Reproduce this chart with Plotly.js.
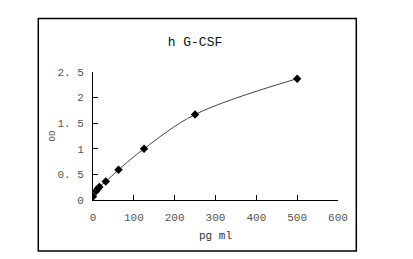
<!DOCTYPE html>
<html><head><meta charset="utf-8">
<script src="https://cdn.plot.ly/plotly-3.0.1.min.js"></script>
<style>html,body{margin:0;padding:0;background:#fff}#chart{width:413px;height:259px}</style>
</head><body><div id="chart"></div>
<script>
var concentration = [0, 7.8, 11.7, 15.6, 31.25, 62.5, 125, 250, 500];
var od = [0.07, 0.175, 0.22, 0.255, 0.36, 0.59, 1.0, 1.67, 2.37];
var xTicks = [0, 100, 200, 300, 400, 500, 600];
var yTickVals = [0, 0.5, 1, 1.5, 2, 2.5];
var yTickText = ['0', '0. 5', '1', '1. 5', '2', '2. 5'];
var titleText = 'h G-CSF';
var xTitle = 'pg ml';
var yTitle = 'OD';

var font = '"Liberation Mono", "DejaVu Sans Mono", monospace';
var trace = {
  x: concentration, y: od, mode: 'lines+markers', type: 'scatter',
  line: {shape: 'spline', smoothing: 1, color: '#444', width: 1},
  marker: {symbol: 'diamond', size: 6.5, color: '#000'},
  hoverinfo: 'none'
};
var layout = {
  width: 413, height: 259,
  margin: {l: 93, r: 75, t: 72, b: 59},
  paper_bgcolor: '#fff', plot_bgcolor: '#fff',
  showlegend: false,
  title: {text: titleText, x: 0.472, xanchor: 'center', y: 0.84, yanchor: 'middle',
          font: {family: font, size: 13, color: '#111'}},
  xaxis: {range: [0, 600], tickvals: xTicks, ticks: 'inside', ticklen: 5, tickcolor: '#000',
          ticklabelstandoff: 7,
          showline: true, linecolor: '#000', linewidth: 1, showgrid: false, zeroline: false,
          tickfont: {family: font, size: 11, color: '#555'},
          title: {text: xTitle, standoff: 8, font: {family: font, size: 11, color: '#333'}}},
  yaxis: {range: [0, 2.5], tickvals: yTickVals, ticktext: yTickText, ticks: 'inside', ticklen: 5, tickcolor: '#000',
          ticklabelstandoff: 6,
          showline: true, linecolor: '#000', linewidth: 1, showgrid: false, zeroline: false,
          tickfont: {family: font, size: 11, color: '#555'},
          title: {text: yTitle, standoff: 0, font: {family: font, size: 9, color: '#555'}}},
  shapes: [{type: 'rect', xref: 'paper', yref: 'paper', x0: -0.2233, x1: 1.0747, y0: -0.3975, y1: 1.4186,
            line: {color: '#000', width: 1.5}, fillcolor: 'rgba(0,0,0,0)', layer: 'below'}]
};
Plotly.newPlot('chart', [trace], layout, {staticPlot: true, displayModeBar: false});
</script></body></html>
